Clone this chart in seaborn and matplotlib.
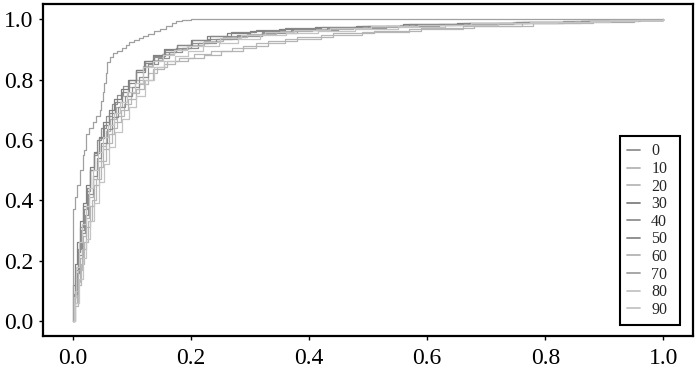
import matplotlib
matplotlib.use("Agg")
import matplotlib.pyplot as plt
from matplotlib.lines import Line2D
import seaborn as sns
import pandas as pd

# ---- data ----
labels = ["0", "10", "20", "30", "40", "50", "60", "70", "80", "90"]
colors = ["#909090", "#b4b4b4", "#b8b8b8", "#808080", "#909090",
          "#888888", "#b4b4b4", "#a0a0a0", "#c4c4c4", "#c4c4c4"]

fpr_00 = [0, .002, .006, .010, .014, .019, .024, .030, .036, .042, .049, .057, .066, .075, .085, .096, .108, .122, .138, .155, .175, .200, .230, .270, .320, .380, .450, .530, .620, .720, .830, .920, 1.0]
tpr_00 = [0, .08, .17, .24, .30, .37, .43, .50, .55, .60, .64, .68, .72, .75, .78, .80, .83, .86, .875, .89, .905, .92, .935, .945, .955, .963, .97, .977, .983, .988, .993, .997, 1.0]

fpr_10 = [0, .003, .008, .012, .017, .022, .028, .034, .041, .048, .056, .064, .073, .083, .094, .106, .120, .135, .152, .172, .195, .222, .255, .295, .345, .405, .475, .555, .645, .745, .850, .940, 1.0]
tpr_10 = [0, .06, .13, .21, .28, .34, .41, .47, .53, .58, .63, .67, .71, .745, .775, .80, .845, .865, .885, .90, .915, .928, .94, .952, .96, .967, .974, .98, .985, .99, .994, .998, 1.0]

fpr_20 = [0, .004, .009, .015, .020, .026, .033, .040, .048, .057, .066, .076, .087, .099, .112, .127, .143, .160, .180, .205, .235, .270, .310, .360, .420, .490, .570, .660, .760, .860, .950, 1.0]
tpr_20 = [0, .05, .12, .19, .26, .33, .40, .47, .53, .59, .64, .68, .72, .755, .785, .82, .84, .86, .872, .885, .895, .905, .92, .935, .948, .958, .968, .978, .986, .992, .997, 1.0]

fpr_30 = [0, .001, .004, .008, .012, .017, .023, .029, .036, .044, .052, .061, .071, .082, .094, .107, .121, .137, .155, .176, .200, .228, .262, .300, .350, .410, .480, .560, .650, .750, .860, .950, 1.0]
tpr_30 = [0, .12, .19, .26, .33, .39, .45, .51, .56, .61, .66, .70, .735, .77, .80, .83, .86, .88, .90, .915, .93, .945, .955, .962, .968, .973, .978, .983, .987, .991, .995, .998, 1.0]

fpr_40 = [0, .003, .007, .011, .016, .021, .027, .034, .041, .049, .058, .067, .077, .088, .100, .113, .128, .145, .164, .186, .212, .242, .278, .320, .370, .430, .500, .580, .670, .770, .870, .950, 1.0]
tpr_40 = [0, .09, .16, .22, .29, .35, .42, .48, .54, .59, .635, .675, .71, .745, .775, .81, .85, .87, .89, .905, .92, .935, .948, .957, .964, .97, .976, .982, .987, .991, .995, .998, 1.0]

fpr_50 = [0, .002, .005, .009, .013, .018, .024, .030, .037, .045, .053, .062, .072, .083, .095, .108, .122, .138, .156, .177, .202, .232, .268, .310, .360, .420, .490, .570, .660, .760, .860, .950, 1.0]
tpr_50 = [0, .07, .15, .23, .31, .38, .44, .50, .555, .605, .65, .69, .725, .76, .79, .825, .855, .878, .898, .915, .93, .945, .957, .964, .97, .975, .979, .984, .988, .992, .995, .998, 1.0]

fpr_60 = [0, .004, .010, .016, .022, .029, .036, .044, .052, .061, .071, .082, .094, .107, .121, .137, .154, .174, .196, .222, .252, .288, .330, .380, .440, .510, .590, .680, .780, .880, .960, 1.0]
tpr_60 = [0, .10, .17, .24, .31, .38, .45, .51, .57, .62, .66, .70, .735, .77, .80, .835, .85, .862, .872, .882, .895, .91, .928, .942, .953, .962, .97, .978, .986, .993, .997, 1.0]

fpr_70 = [0, .001, .001, .004, .008, .012, .017, .020, .023, .028, .034, .040, .046, .049, .051, .054, .057, .059, .063, .068, .075, .083, .090, .096, .104, .112, .120, .128, .138, .148, .159, .168, .175, .185, .200, 1.0]
tpr_70 = [0, .10, .37, .41, .45, .50, .55, .565, .62, .64, .66, .68, .70, .73, .76, .79, .82, .858, .875, .887, .895, .905, .915, .925, .93, .938, .945, .952, .96, .968, .977, .986, .994, .997, 1.0, 1.0]

fpr_80 = [0, .002, .006, .011, .016, .022, .028, .035, .043, .051, .060, .070, .081, .093, .106, .120, .136, .153, .172, .194, .220, .250, .285, .325, .375, .435, .505, .585, .675, .775, .875, .955, 1.0]
tpr_80 = [0, .08, .18, .26, .32, .38, .44, .50, .56, .61, .65, .69, .725, .76, .79, .84, .86, .88, .897, .912, .925, .938, .948, .956, .963, .97, .976, .982, .987, .991, .995, .998, 1.0]

fpr_90 = [0, .005, .011, .017, .023, .030, .037, .045, .053, .062, .072, .083, .095, .108, .122, .138, .155, .174, .196, .220, .248, .280, .318, .362, .415, .478, .550, .630, .720, .820, .910, 1.0]
tpr_90 = [0, .06, .14, .21, .27, .33, .39, .46, .52, .575, .625, .67, .71, .745, .80, .84, .86, .878, .895, .91, .922, .935, .946, .955, .962, .969, .975, .981, .986, .991, .996, 1.0]

x_ticks = [0.0, 0.2, 0.4, 0.6, 0.8, 1.0]
y_ticks = [0.0, 0.2, 0.4, 0.6, 0.8, 1.0]

series = [(fpr_00, tpr_00), (fpr_10, tpr_10), (fpr_20, tpr_20), (fpr_30, tpr_30),
          (fpr_40, tpr_40), (fpr_50, tpr_50), (fpr_60, tpr_60), (fpr_70, tpr_70),
          (fpr_80, tpr_80), (fpr_90, tpr_90)]

rows = []
for lab, (fx, ty) in zip(labels, series):
    for a, b in zip(fx, ty):
        rows.append({"model": lab, "fpr": a, "tpr": b})
df = pd.DataFrame(rows)

# ---- style ----
sns.set_theme(style="white")
plt.rcParams["font.family"] = ["Liberation Serif", "DejaVu Serif"]

fig, ax = plt.subplots(figsize=(7.0, 3.71), dpi=100)
fig.subplots_adjust(left=0.0614, right=0.99, top=0.989, bottom=0.0943)

palette = dict(zip(labels, colors))
sns.lineplot(data=df, x="fpr", y="tpr", hue="model", hue_order=labels,
             palette=palette, estimator=None, sort=False, units="model",
             drawstyle="steps-post", linewidth=0.9, legend=False, ax=ax)

ax.set_xlim(-0.05, 1.05)
ax.set_ylim(-0.05, 1.05)
ax.set_xticks(x_ticks)
ax.set_yticks(y_ticks)
ax.set_xticklabels([f"{t:.1f}" for t in x_ticks])
ax.set_yticklabels([f"{t:.1f}" for t in y_ticks])
ax.set_xlabel("")
ax.set_ylabel("")
ax.tick_params(axis="both", which="major", direction="out", length=3, width=1,
               color="black", labelsize=17, labelcolor="black", bottom=True, left=True)
ax.tick_params(axis="x", pad=5.5)
ax.tick_params(axis="y", pad=4)
for s in ax.spines.values():
    s.set_color("black")
    s.set_linewidth(1.6)
    s.set_visible(True)

handles = [Line2D([0], [0], color=c, lw=1.3) for c in colors]
leg = ax.legend(handles, labels, loc="lower left",
                bbox_to_anchor=(0.8877, 0.033, 0.0923, 0.563), mode="expand",
                borderaxespad=0, fontsize=11.5, frameon=True,
                fancybox=False, edgecolor="black", framealpha=1,
                labelspacing=0.1, handlelength=0.8, handletextpad=0.7,
                borderpad=0.45)
leg.get_frame().set_linewidth(1.5)

fig.savefig("out.png", dpi=100)
